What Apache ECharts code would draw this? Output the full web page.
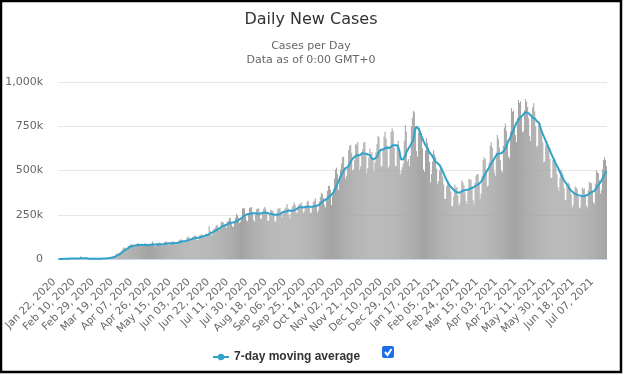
<!DOCTYPE html>
<html><head><meta charset="utf-8">
<script src="https://cdn.jsdelivr.net/npm/echarts@6/dist/echarts.min.js"></script>
<style>html,body{margin:0;padding:0;background:#fff}#c{width:624px;height:375px}</style>
</head><body><div id="c"></div>
<script>
// First day of the series (Jan 22, 2020); one category per day
const START_YEAR = 2020, START_MONTH = 0, START_DAY = 22;
const MONTHS = ['Jan','Feb','Mar','Apr','May','Jun','Jul','Aug','Sep','Oct','Nov','Dec'];

// Daily new cases, in thousands (rows = weeks starting Wednesday)
const dailyCases = [
0.6,0.1,0.3,0.7,0.7,0.8,1.5,
1.7,2.0,2.1,2.6,2.8,3.2,3.9,
3.7,3.2,3.4,2.7,3.0,2.5,2.0,
2.0,15.1,5.1,2.6,2.1,2.0,1.9,
0.5,0.6,1.0,0.6,1.0,0.6,0.9,
1.0,1.2,1.4,1.9,1.8,2.0,2.3,
2.3,2.7,4.0,4.0,3.9,4.1,4.6,
7.3,7.5,10.9,10.9,11.9,14.5,15.0,
18.4,28.1,32.2,32.6,34.4,40.3,42.7,
50.4,62.9,63.6,65.4,58.2,61.1,73.3,
76.1,79.3,85.3,81.2,71.4,70.9,78.4,
85.4,87.9,88.4,78.3,79.2,71.8,73.1,
83.4,86.4,90.2,81.2,76.6,73.0,77.3,
81.9,87.1,98.4,85.6,78.3,70.8,80.9,
85.5,90.1,93.3,90.5,78.3,76.6,80.8,
96.2,97.3,100.0,91.1,78.2,84.6,87.7,
90.7,100.3,97.9,96.3,81.4,90.2,96.3,
101.9,108.4,110.1,108.4,97.7,91.4,96.5,
106.0,120.1,127.3,124.0,105.6,103.3,114.1,
124.4,131.2,129.4,134.5,108.7,107.8,124.7,
136.1,138.7,138.4,134.5,134.8,122.9,144.5,
143.3,140.8,184.5,159.8,136.4,137.5,165.6,
171.0,178.1,189.4,191.8,163.6,165.0,181.1,
212.5,207.0,206.8,192.9,189.4,176.0,212.1,
214.8,229.9,232.9,202.4,185.6,182.2,215.3,
232.7,255.8,246.9,232.5,204.6,211.8,226.9,
285.6,287.2,286.5,248.8,219.2,213.8,251.1,
287.6,293.0,292.4,261.7,220.0,210.8,252.1,
282.8,284.4,287.2,263.3,227.8,228.5,265.4,
284.3,293.2,284.0,257.1,215.2,216.0,259.7,
279.7,273.5,271.0,255.9,210.5,211.6,259.5,
285.3,283.9,289.2,267.2,234.9,254.8,263.3,
285.0,290.4,311.1,285.3,249.9,227.2,259.8,
293.0,303.2,320.6,306.7,264.3,256.7,296.2,
310.9,309.5,320.6,301.6,259.1,268.3,296.8,
304.9,324.5,329.0,296.1,262.2,261.5,292.2,
320.3,329.2,343.4,308.1,262.3,273.4,324.9,
351.5,374.1,366.6,345.1,304.6,290.6,335.1,
384.9,413.5,412.9,389.6,305.1,354.0,395.1,
455.0,505.0,515.0,480.0,390.0,440.0,505.0,
540.0,575.0,578.0,515.0,455.0,470.0,515.0,
615.0,640.0,645.0,600.0,500.0,505.0,560.0,
650.7,643.8,661.2,594.6,502.6,524.7,604.7,
621.6,658.6,660.7,586.0,484.0,513.8,573.6,
623.0,563.8,603.9,558.3,494.4,545.0,602.7,
648.9,695.5,688.1,616.2,521.3,527.5,613.2,
690.2,719.0,679.1,641.1,514.2,525.6,633.8,
719.1,737.2,722.1,628.7,526.2,524.5,625.7,
668.7,601.5,480.0,500.0,520.0,540.0,668.7,
758.1,720.9,550.5,564.3,523.4,583.1,749.0,
798.7,838.0,829.4,725.0,610.1,578.1,713.5,
743.6,725.1,710.9,626.4,505.7,493.6,613.6,
683.1,653.7,630.4,548.7,431.6,480.2,552.0,
615.0,590.0,575.0,510.0,425.0,440.0,500.0,
515.0,504.3,466.5,420.5,340.0,338.8,411.9,
448.0,429.7,415.8,381.4,298.2,298.5,353.7,
420.2,400.0,406.3,358.5,301.2,315.4,375.7,
443.6,433.2,416.6,375.8,327.2,310.3,382.3,
453.2,445.6,449.2,399.7,332.0,307.2,431.0,
470.7,480.0,478.4,426.2,340.6,370.4,469.8,
560.0,575.0,565.0,500.0,410.0,415.0,545.0,
640.0,660.0,630.0,560.0,490.0,470.0,600.0,
700.0,680.0,630.0,560.0,500.0,490.0,640.0,
743.4,765.6,722.9,671.5,579.5,568.9,720.6,
852.6,832.6,838.9,741.7,700.1,659.0,797.1,
898.1,880.8,890.7,798.0,716.5,721.5,840.2,
903.6,888.1,858.4,795.2,694.6,666.6,799.6,
857.8,880.2,833.4,750.0,633.8,639.6,756.2,
769.1,737.1,708.2,658.1,545.2,550.4,644.1,
670.0,650.0,620.0,565.0,460.0,458.0,560.0,
570.0,565.0,530.0,480.0,405.0,385.0,460.0,
505.0,490.0,475.0,400.0,335.0,330.0,415.0,
432.3,425.7,404.6,366.1,290.2,306.0,367.5,
409.6,403.3,394.4,352.4,287.2,291.2,352.7,
402.0,393.0,400.0,367.0,301.8,291.5,388.7,
436.0,428.0,430.0,383.5,320.6,312.0,424.9,
500.0,490.0,485.0,445.0,370.0,390.0,505.0,
560.0,575.0,560.0,525.0
];

// 7-day moving average, in thousands
const movingAverage = [
0.6,0.6,0.6,0.6,0.6,0.6,0.8,
1.0,1.3,1.6,1.9,2.2,2.5,2.8,
3.0,3.1,3.1,3.1,3.1,3.0,2.9,
2.7,4.5,4.7,4.7,4.6,4.6,4.4,
4.2,2.2,1.6,1.3,1.0,0.8,0.8,
0.8,0.9,1.0,1.2,1.3,1.5,1.7,
1.9,2.1,2.5,2.8,3.1,3.4,3.7,
4.4,5.1,6.1,7.1,8.3,9.8,11.3,
12.9,15.8,18.8,21.8,24.8,28.5,32.4,
37.1,42.0,46.5,51.3,54.6,57.6,61.8,
65.4,67.7,70.6,72.9,74.7,76.1,76.8,
78.1,79.3,79.8,79.4,80.4,80.6,79.8,
79.5,79.3,79.5,79.9,79.5,79.6,80.1,
79.9,80.0,81.2,81.8,82.0,81.7,82.2,
82.8,83.2,82.5,83.2,83.2,84.0,84.0,
85.5,86.5,87.5,87.6,87.6,88.7,89.7,
89.0,89.4,89.1,89.8,90.3,91.1,92.3,
93.9,95.0,96.7,98.4,100.7,100.8,100.8,
101.4,103.0,105.4,107.6,108.7,110.4,112.9,
115.5,117.1,117.4,118.9,119.4,120.0,121.5,
123.2,124.3,125.5,125.5,129.3,131.5,134.4,
135.4,135.8,142.4,146.2,146.4,148.5,151.5,
155.5,160.9,161.6,166.2,170.1,174.0,176.2,
182.0,186.2,188.7,188.2,191.9,193.5,197.9,
198.2,201.5,205.3,206.6,206.1,206.9,207.3,
209.9,213.6,215.6,220.0,222.7,227.0,228.7,
236.3,240.8,246.5,248.8,251.0,251.3,254.6,
254.9,255.7,256.5,258.3,258.4,258.0,258.1,
257.4,256.1,255.5,255.7,256.7,259.2,261.1,
261.3,262.5,262.0,260.9,259.1,257.3,256.5,
255.9,253.1,251.1,250.9,250.2,249.6,249.6,
250.4,251.9,254.5,256.1,259.6,265.8,266.3,
266.3,267.2,270.3,273.0,275.1,271.2,270.7,
271.8,273.6,274.9,277.9,280.0,284.3,289.5,
292.1,293.1,293.1,292.2,291.4,293.1,293.2,
292.3,294.5,295.7,294.9,295.4,295.2,294.5,
296.8,297.5,299.7,301.4,301.4,303.1,307.7,
312.2,318.6,322.0,327.3,333.2,335.7,337.1,
342.1,347.7,354.3,360.7,360.8,369.2,377.0,
387.0,400.3,415.6,427.2,439.9,452.2,467.9,
480.0,490.0,499.0,504.0,513.3,517.6,519.0,
529.7,538.4,548.3,560.4,566.8,571.9,578.4,
583.5,584.4,586.6,585.9,586.3,589.0,595.4,
593.5,595.8,595.7,594.5,591.8,590.4,587.4,
587.6,573.9,565.8,562.2,563.8,568.2,572.4,
576.0,594.8,606.1,614.4,618.3,615.8,617.3,
623.2,626.6,625.4,629.0,627.9,627.5,630.4,
634.6,637.2,643.3,641.6,643.3,643.1,642.5,
635.2,615.8,581.2,562.8,562.0,564.2,570.2,
583.8,601.1,610.9,623.0,628.2,640.3,651.7,
657.5,673.5,712.3,735.9,748.3,741.3,736.0,
723.8,710.3,693.3,679.3,666.0,655.4,642.6,
634.0,624.7,612.5,600.4,590.5,588.4,580.0,
570.0,560.0,549.0,543.0,542.0,537.0,530.0,
520.0,508.0,495.0,482.0,470.0,456.0,444.0,
434.0,423.0,415.0,408.0,402.0,396.0,388.0,
384.0,379.0,377.0,374.0,374.0,376.0,379.0,
382.0,386.0,387.0,389.0,392.0,391.0,392.0,
393.0,395.0,400.0,403.0,404.0,404.0,411.0,
413.0,418.0,422.0,426.0,427.0,436.0,441.0,
454.0,468.0,480.0,490.0,500.0,506.0,518.0,
529.0,541.0,550.0,558.0,569.0,577.0,585.0,
593.0,596.0,596.0,597.0,598.0,601.0,607.0,
613.0,625.0,638.0,654.0,666.0,677.0,688.0,
703.0,713.0,730.0,740.0,757.0,770.0,781.0,
787.0,794.0,801.0,809.0,811.0,820.0,826.0,
827.0,828.0,823.0,823.0,820.0,812.0,806.0,
799.0,798.0,794.0,788.0,780.0,776.0,770.0,
757.0,737.0,719.0,706.0,693.0,681.0,665.0,
652.0,639.0,627.0,614.0,600.0,587.0,574.0,
561.0,550.0,537.0,526.0,516.0,505.0,490.0,
478.0,465.0,455.0,444.0,436.0,428.0,421.0,
411.0,402.0,392.0,387.0,381.0,378.0,371.0,
368.0,365.0,363.0,361.0,360.0,358.0,357.0,
356.0,354.0,355.0,357.0,359.0,359.0,364.0,
369.0,374.0,378.0,380.0,382.0,385.0,390.0,
400.0,410.0,418.0,426.0,433.0,444.0,455.0,
464.0,476.0,487.0,498.0
];

const yTicks = [0, 250, 500, 750, 1000];

const categories = [];
for (let i = 0; i < dailyCases.length; i++) {
  const d = new Date(Date.UTC(START_YEAR, START_MONTH, START_DAY + i));
  categories.push(MONTHS[d.getUTCMonth()] + ' ' + String(d.getUTCDate()).padStart(2, '0') + ', ' + d.getUTCFullYear());
}

const chart = echarts.init(document.getElementById('c'), null, {renderer: 'canvas'});
chart.setOption({
  animation: false,
  backgroundColor: '#fff',
  title: [
    {text: 'Daily New Cases', left: 306, textAlign: 'center', top: 7,
     textStyle: {fontFamily: 'DejaVu Sans', fontSize: 16, fontWeight: 'normal', color: '#333'}},
    {text: 'Cases per Day\nData as of 0:00 GMT+0', left: 306, textAlign: 'center', top: 34,
     textStyle: {fontFamily: 'DejaVu Sans', fontSize: 11, fontWeight: 'normal', color: '#666', lineHeight: 14}}
  ],
  grid: {left: 58, right: 17, top: 82, bottom: 116},
  legend: {
    data: [{name: '7-day moving average'}],
    left: 207, top: 346, itemWidth: 16, itemHeight: 8,
    textStyle: {fontFamily: 'Liberation Sans', fontSize: 12, fontWeight: 'bold', color: '#333'}
  },
  xAxis: {
    type: 'category', data: categories, boundaryGap: true,
    axisLine: {lineStyle: {color: '#ccd6eb'}},
    axisTick: {show: false},
    axisLabel: {interval: 18, rotate: 45, margin: 17, padding: [0, 6, 0, 0], fontFamily: 'DejaVu Sans', fontSize: 10.5, color: '#666', hideOverlap: false}
  },
  yAxis: {
    type: 'value', min: yTicks[0], max: yTicks[yTicks.length - 1], interval: 250,
    splitLine: {lineStyle: {color: '#e6e6e6'}},
    axisLine: {show: false}, axisTick: {show: false},
    axisLabel: {margin: 15, fontFamily: 'DejaVu Sans', fontSize: 11, color: '#666',
      formatter: v => v === 0 ? '0' : v.toLocaleString('en-US') + 'k'}
  },
  series: [
    {name: 'Daily Cases', type: 'bar', data: dailyCases, barCategoryGap: '0%',
     itemStyle: {color: '#a4a4a4'}, z: 2},
    {name: '7-day moving average', type: 'line', data: movingAverage, symbol: 'circle', symbolSize: 7,
     showSymbol: false, lineStyle: {color: '#31a2c9', width: 2}, itemStyle: {color: '#31a2c9'}, z: 3}
  ],
  graphic: [
    {type: 'rect', shape: {x: 1, y: 1, width: 620, height: 371}, style: {fill: 'none', stroke: '#000', lineWidth: 2.5}, silent: true},
    {type: 'rect', shape: {x: 382, y: 346, width: 12, height: 12, r: 2}, style: {fill: '#1a6fe8'}},
    {type: 'polyline', shape: {points: [[385, 352], [387.5, 355], [391.5, 349]]}, style: {stroke: '#fff', lineWidth: 2, fill: 'none'}}
  ]
});
</script></body></html>
